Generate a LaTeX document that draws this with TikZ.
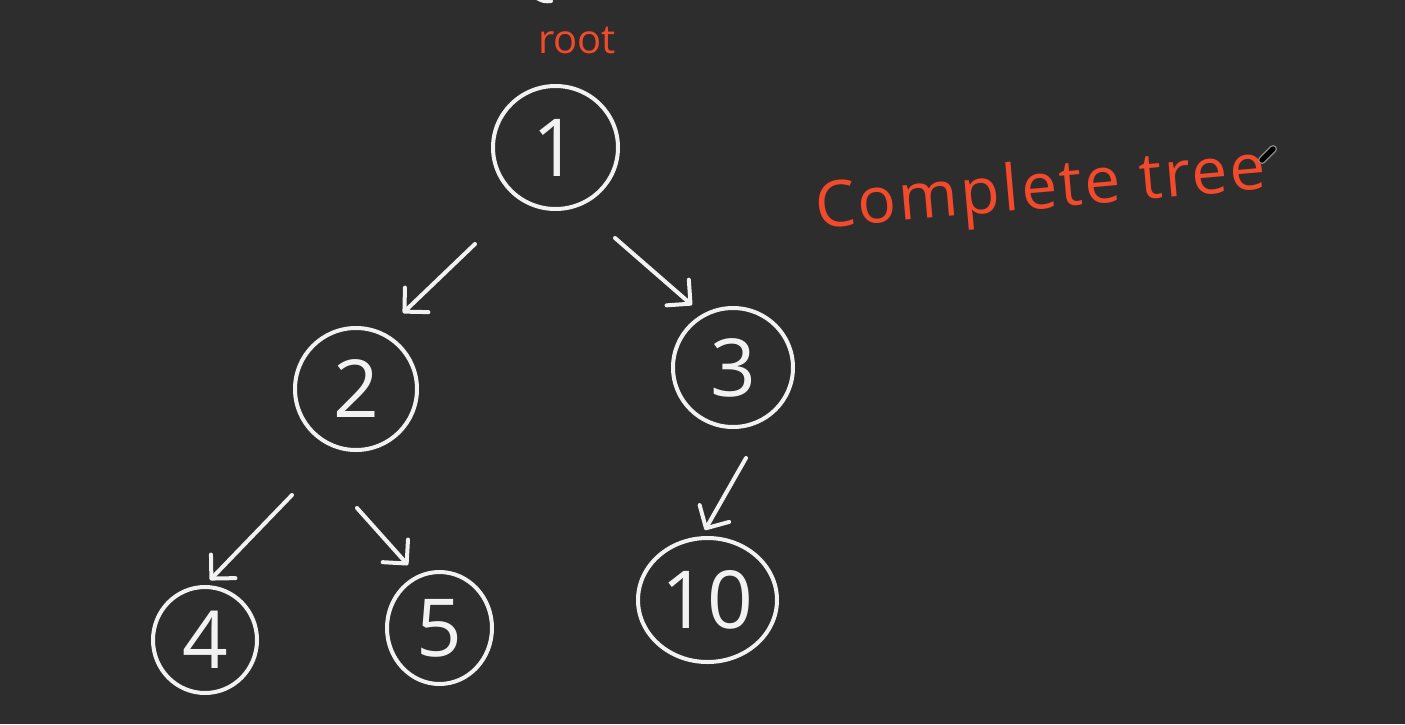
\documentclass[tikz,border=0pt]{standalone}
\usepackage{fontspec}
\usetikzlibrary{arrows.meta,shapes.geometric}
\newfontfamily\digitfont{Open Sans}
\newfontfamily\redfont{Open Sans}
\newfontfamily\titlefont[LetterSpace=4]{Open Sans}
\definecolor{bg}{HTML}{2D2D2D}
\definecolor{chalk}{HTML}{F2F2F2}
\definecolor{ink}{HTML}{F24A2B}
\definecolor{pencilrim}{HTML}{8A8A8A}
\begin{document}
\begin{tikzpicture}[x=0.5pt,y=-0.5pt,
  tnode/.style={ellipse, draw=chalk, line width=2pt, inner sep=0pt, text=chalk,
    font=\digitfont\fontsize{40}{40}\selectfont},
  arr/.style={draw=chalk, line width=2pt, line cap=round,
    -{Straight Barb[round,length=8.5pt,width=17pt]}},
  redtext/.style={text=ink, inner sep=0pt}]
\fill[bg] (0,0) rectangle (1405,724);
\useasboundingbox (0,0) rectangle (1405,724);
% top fragment
\draw[chalk, line width=2pt, line cap=round] (537,-2) to[bend right=20] (551,1);
% nodes
\node[tnode, minimum width=62.5pt, minimum height=61.5pt] (n1) at (555.5,147.5) {1};
\node[tnode, minimum width=61pt, minimum height=61pt] (n2) at (356,389) {2};
\node[tnode, minimum width=60pt, minimum height=59.5pt] (n3) at (733,367.5) {3};
\node[tnode, minimum width=52pt, minimum height=53pt] (n4) at (205,640) {4};
\node[tnode, minimum width=52.5pt, minimum height=56pt] (n5) at (439.5,628) {5};
\node[tnode, minimum width=69.5pt, minimum height=62pt] (n10) at (707.5,600) {10};
% labels
\node[redtext, font=\redfont\fontsize{20}{20}\selectfont] (root) at (577,41) {root};
\node[redtext, font=\titlefont\fontsize{32}{32}\selectfont, rotate=5] (title) at (1041,192) {Complete tree};
% pencil cursor
\draw[pencilrim, line width=4pt, line cap=round] (1262,160) -- (1273,149);
\draw[black, line width=2.6pt, line cap=round] (1262,160) -- (1273,149);
% connectors
\draw[arr] ([shift={(-80.5,96.5)}]n1.center) -- ([shift={(47,-76)}]n2.center);
\draw[arr] ([shift={(59.5,90.5)}]n1.center) -- ([shift={(-41,-62.5)}]n3.center);
\draw[arr] ([shift={(-64,106)}]n2.center) -- ([shift={(5,-60)}]n4.center);
\draw[arr] ([shift={(1,119)}]n2.center) -- ([shift={(-31.5,-63)}]n5.center);
\draw[arr] ([shift={(13,90.5)}]n3.center) -- ([shift={(-2.5,-70)}]n10.center);
\end{tikzpicture}
\end{document}
